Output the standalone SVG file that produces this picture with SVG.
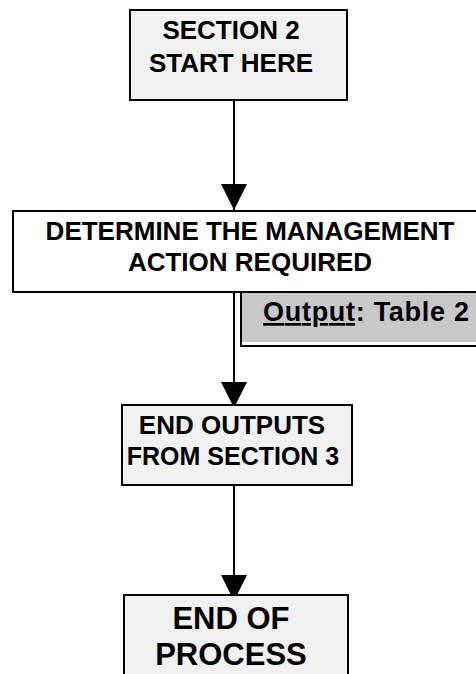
<svg xmlns="http://www.w3.org/2000/svg" width="476" height="674" viewBox="0 0 476 674">
<style>
.box{stroke:#000;stroke-width:2}
.lt{fill:#f1f1f1}
.wh{fill:#fff}
.t{font-family:"Liberation Sans",Arial,sans-serif;font-weight:bold;fill:#000;text-anchor:middle}
.c{stroke:#000;stroke-width:2;fill:none}
</style>
<defs>
<marker id="ah" markerUnits="userSpaceOnUse" markerWidth="26" markerHeight="26" refX="26" refY="13" orient="auto">
<path d="M0,0 L26,13 L0,26 z" fill="#000"/>
</marker>
</defs>
<rect width="476" height="674" fill="#fff"/>
<g id="connectors">
<line class="c" x1="234" y1="100" x2="234" y2="210" marker-end="url(#ah)"/>
<line class="c" x1="234" y1="292" x2="234" y2="408" marker-end="url(#ah)"/>
<line class="c" x1="234" y1="485" x2="234" y2="601" marker-end="url(#ah)"/>
</g>
<g id="start">
<rect class="box lt" x="130" y="10" width="217" height="90"/>
<text class="t" x="231" y="39" font-size="26">SECTION 2</text>
<text class="t" x="231" y="72" font-size="26">START HERE</text>
</g>
<g id="determine">
<rect class="box wh" x="13" y="211" width="480" height="81"/>
<text class="t" x="250" y="240" font-size="26">DETERMINE THE MANAGEMENT</text>
<text class="t" x="250" y="271" font-size="26">ACTION REQUIRED</text>
</g>
<g id="output">
<rect x="241" y="292" width="240" height="54" fill="#fff" stroke="#000" stroke-width="2"/>
<rect x="242" y="293" width="240" height="49" fill="#c8c8c8"/>
<text class="t" x="263" y="321" font-size="27" textLength="206" lengthAdjust="spacing" style="text-anchor:start"><tspan text-decoration="underline">Output</tspan>: Table 2</text>
</g>
<g id="end-outputs">
<rect class="box lt" x="122" y="405" width="230" height="80"/>
<text class="t" x="232" y="434" font-size="26">END OUTPUTS</text>
<text class="t" x="233" y="465" font-size="25">FROM SECTION 3</text>
</g>
<g id="end">
<rect class="box lt" x="124" y="595" width="224" height="90"/>
<text class="t" x="231" y="629" font-size="31">END OF</text>
<text class="t" x="231" y="665" font-size="31">PROCESS</text>
</g>
</svg>
